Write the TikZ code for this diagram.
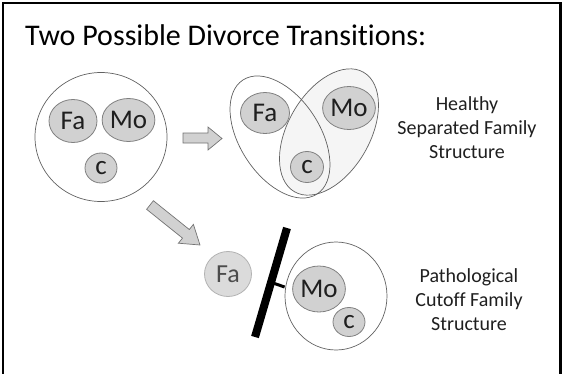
\documentclass[tikz,border=0pt]{standalone}
\usepackage{fontspec}
\setmainfont[Ligatures=NoCommon]{Carlito}
\usetikzlibrary{shapes.geometric}
\begin{document}
\begin{tikzpicture}[x=1pt,y=-1pt,
  pers/.style={draw=black!50, fill=black!18, line width=0.8pt, ellipse, inner sep=0pt, text=black!88, font=\fontsize{27}{30}\selectfont},
  ghost/.style={draw=black!30, fill=black!14, line width=0.8pt, ellipse, inner sep=0pt, text=black!70, font=\fontsize{26}{30}\selectfont},
  grp/.style={draw=black!62, line width=0.7pt, ellipse, inner sep=0pt},
  blockarrow/.style={draw=black!55, fill=black!18, line width=0.7pt, line join=miter},
  lbl/.style={align=center, text=black!88, font=\fontsize{20}{24}\selectfont},
  title/.style={font=\fontsize{30}{36}\selectfont, text=black, inner sep=0pt}
]
\useasboundingbox (0,0) rectangle (563,373);
\begin{scope}
\clip (0,0) rectangle (563,373);
\draw[line width=2.5pt, black] (3,3) rectangle (560.5,385);
\end{scope}

\node[title, anchor=base west] (title) at (25,45) {Two Possible Divorce Transitions:};

% original family
\node[grp, minimum width=132pt, minimum height=129pt] (fam) at (101,137) {};
\node[pers, minimum width=48pt, minimum height=43pt] (fa1) at (73,121) {Fa};
\node[pers, minimum width=46pt, minimum height=43pt] (mo1) at (128.5,120) {Mo};
\node[pers, minimum width=32pt, minimum height=30pt] (c1) at (101,168) {c};

% right arrow
\draw[blockarrow] (183,133) -- (208,133) -- (208,127) -- (222,138.5) -- (208,150) -- (208,143) -- (183,143) -- cycle;

% diagonal arrow
\draw[blockarrow] (153.4,200.7) -- (189.3,229.5) -- (193.4,224.4) -- (200,245) -- (178.4,243.2) -- (182.5,238.1) -- (146.6,209.3) -- cycle;

% healthy separated family
\node[grp, fill=black!4, minimum width=138pt, minimum height=82pt, rotate=60] (mog) at (329,132) {};
\node[grp, minimum width=136pt, minimum height=80pt, rotate=-57] (fag) at (280,137) {};
\node[pers, minimum width=49pt, minimum height=41pt] (fa2) at (265,113) {Fa};
\node[pers, minimum width=48pt, minimum height=43pt] (mo2) at (349,108) {Mo};
\node[pers, minimum width=33pt, minimum height=31pt] (c2) at (307,167) {c};
\node[lbl] (l1) at (467,128) {Healthy\\Separated Family\\Structure};

% pathological cutoff
\node[ghost, minimum width=47pt, minimum height=45pt] (fa3) at (228,274) {Fa};
\coordinate (bartop) at (287,228);
\coordinate (barbot) at (255,337);
\draw[line width=8pt, black] (bartop) -- (barbot);
\node[grp, minimum width=102pt, minimum height=108pt] (mog3) at (336,296) {};
\coordinate (stub) at (273,283);
\draw[line width=3pt, black] (stub) -- (mog3.west |- 0,287) ;
\node[pers, minimum width=48pt, minimum height=46pt] (mo3) at (319,289) {Mo};
\node[pers, minimum width=32pt, minimum height=29pt] (c3) at (349,322) {c};
\node[lbl] (l2) at (469,300) {Pathological\\Cutoff Family\\Structure};
\end{tikzpicture}
\end{document}
